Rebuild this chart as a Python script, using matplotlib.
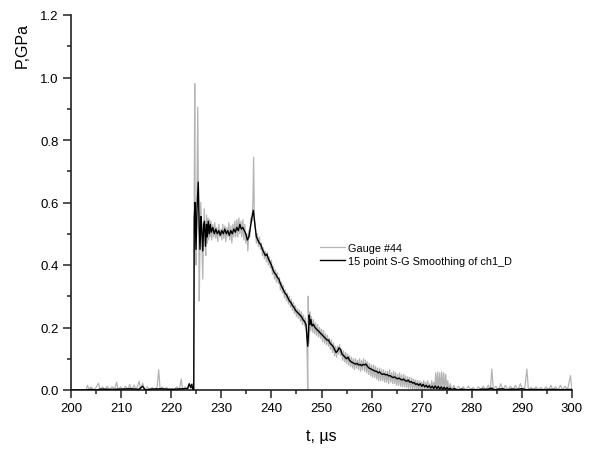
import matplotlib
matplotlib.use("Agg")
import matplotlib.pyplot as plt
from matplotlib.ticker import MultipleLocator

plt.rcParams['font.family'] = ['Liberation Sans', 'DejaVu Sans']

# Raw gauge record (gray)
gauge_t = [203.0, 203.3, 203.6, 204.0, 204.5, 205.0, 205.5, 205.8, 206.3, 206.8, 207.2, 207.7, 208.2, 208.7,
           209.1, 209.4, 209.9, 210.4, 210.9, 211.4, 211.7, 212.1, 212.6, 213.0, 213.6, 213.9, 214.3, 214.7,
           215.2, 215.7, 216.2, 216.7, 217.2, 217.5, 217.8, 218.2, 218.6, 219.1, 219.6, 220.1, 220.6, 221.1,
           221.6, 222.0, 222.3, 222.8, 223.2, 223.6, 223.9, 224.2, 224.5,
           224.6, 224.7, 224.8, 224.95, 225.1, 225.3, 225.45, 225.6, 225.75, 225.9, 226.05, 226.3, 226.45,
           226.6, 226.75, 226.9, 227.05, 227.2, 227.35, 227.5, 227.65, 227.8, 227.95,
           228.1, 228.3, 228.5, 228.7, 228.9, 229.1, 229.3, 229.5, 229.7, 229.9, 230.1, 230.3, 230.5, 230.7,
           230.9, 231.1, 231.3, 231.5, 231.7, 231.9, 232.1, 232.3, 232.5, 232.7, 232.9, 233.1, 233.3, 233.5,
           233.7, 233.9, 234.1, 234.3, 234.5, 234.7, 234.9, 235.1, 235.3, 235.5, 235.7, 235.9, 236.1, 236.3,
           236.45, 236.6, 236.8, 237.0, 237.2, 237.4, 237.6, 237.8, 238.0, 238.2, 238.4, 238.6, 238.8, 239.0,
           239.2, 239.4, 239.6, 239.8, 240.0, 240.2, 240.4, 240.6, 240.8, 241.0, 241.2, 241.4, 241.6, 241.8,
           242.0, 242.2, 242.4, 242.6, 242.8, 243.0, 243.2, 243.4, 243.6, 243.8, 244.0, 244.2, 244.4, 244.6,
           244.8, 245.0, 245.2, 245.4, 245.6, 245.8, 246.0, 246.2, 246.4, 246.6, 246.8, 247.0, 247.15, 247.25,
           247.35, 247.5, 247.65, 247.8, 248.0, 248.2, 248.4, 248.6, 248.8, 249.0, 249.2, 249.4, 249.6, 249.8,
           250.0, 250.2, 250.4, 250.6, 250.8, 251.0, 251.2, 251.4, 251.6, 251.8, 252.0, 252.2, 252.4, 252.6,
           252.8, 253.0, 253.2, 253.4, 253.6, 253.8, 254.0, 254.2, 254.4, 254.6, 254.8, 255.0, 255.2, 255.4,
           255.6, 255.8, 256.0, 256.2, 256.4, 256.6, 256.8, 257.0, 257.2, 257.4, 257.6, 257.8, 258.0, 258.2,
           258.4, 258.6, 258.8, 259.0, 259.2, 259.4, 259.6, 259.8, 260.0, 260.2, 260.4, 260.6, 260.8, 261.0,
           261.2, 261.4, 261.6, 261.8, 262.0, 262.2, 262.4, 262.6, 262.8, 263.0, 263.2, 263.4, 263.6, 263.8,
           264.0, 264.2, 264.4, 264.6, 264.8, 265.0, 265.2, 265.4, 265.6, 265.8, 266.0, 266.2, 266.4, 266.6,
           266.8, 267.0, 267.2, 267.4, 267.6, 267.8, 268.0, 268.2, 268.4, 268.6, 268.8, 269.0, 269.2, 269.4,
           269.6, 269.8, 270.0, 270.2, 270.4, 270.6, 270.8, 271.0, 271.2, 271.4, 271.6, 271.8, 272.0, 272.2,
           272.4, 272.6, 272.8, 273.0, 273.2, 273.4, 273.6, 273.8, 274.0, 274.2, 274.4, 274.6, 274.8, 275.0,
           275.2, 275.4, 275.7, 276.0, 276.4, 276.8, 277.3, 277.8, 278.3, 278.8, 279.3, 279.8, 280.3, 280.8,
           281.3, 281.8, 282.3, 282.8, 283.3, 283.7, 284.0, 284.3, 284.8, 285.3, 285.8, 286.2, 286.7, 287.2,
           287.7, 288.2, 288.7, 289.2, 289.7, 290.1, 290.6, 291.0, 291.3, 291.8, 292.3, 292.8, 293.3, 293.8,
           294.3, 294.8, 295.3, 295.8, 296.2, 296.7, 297.2, 297.7, 298.1, 298.6, 299.1, 299.7, 300.0]
gauge_p = [0.0, 0.015, 0.0, 0.01, 0.0, 0.008, 0.022, 0.0, 0.01, 0.0, 0.012, 0.0, 0.01, 0.003,
           0.025, 0.0, 0.01, 0.0, 0.012, 0.0, 0.018, 0.0, 0.015, 0.0, 0.028, 0.0, 0.022, 0.0,
           0.01, 0.0, 0.008, 0.0, 0.01, 0.065, 0.0, 0.01, 0.0, 0.008, 0.0, 0.005, 0.0, 0.01,
           0.0, 0.035, 0.0, 0.01, 0.0, 0.02, 0.005, 0.02, 0.0,
           0.6, 0.98, 0.45, 0.4, 0.55, 0.905, 0.6, 0.285, 0.48, 0.6, 0.52, 0.355, 0.5,
           0.58, 0.47, 0.43, 0.56, 0.47, 0.55, 0.48, 0.545, 0.49, 0.54,
           0.48, 0.53, 0.49, 0.535, 0.485, 0.52, 0.475, 0.53, 0.49, 0.515, 0.48, 0.53, 0.485, 0.525,
           0.475, 0.52, 0.49, 0.535, 0.48, 0.525, 0.47, 0.53, 0.49, 0.54, 0.49, 0.545, 0.49, 0.55,
           0.50, 0.54, 0.49, 0.545, 0.48, 0.53, 0.47, 0.50, 0.445, 0.51, 0.49, 0.55, 0.54, 0.60,
           0.745, 0.55, 0.52, 0.47, 0.50, 0.46, 0.49, 0.45, 0.47, 0.43, 0.455, 0.42, 0.445, 0.41,
           0.44, 0.40, 0.425, 0.39, 0.415, 0.37, 0.395, 0.355, 0.385, 0.345, 0.375, 0.34, 0.36, 0.32,
           0.345, 0.31, 0.335, 0.295, 0.32, 0.285, 0.31, 0.275, 0.30, 0.265, 0.29, 0.255, 0.28, 0.245,
           0.27, 0.235, 0.26, 0.23, 0.255, 0.22, 0.25, 0.21, 0.24, 0.205, 0.23, 0.19, 0.10, 0.0,
           0.30, 0.15, 0.25, 0.19, 0.235, 0.185, 0.225, 0.18, 0.215, 0.175, 0.21, 0.17, 0.2, 0.165,
           0.195, 0.155, 0.19, 0.15, 0.18, 0.145, 0.175, 0.14, 0.165, 0.13, 0.16, 0.12, 0.15, 0.11,
           0.14, 0.105, 0.14, 0.115, 0.145, 0.11, 0.13, 0.095, 0.125, 0.09, 0.12, 0.085, 0.115, 0.08,
           0.11, 0.075, 0.105, 0.07, 0.10, 0.065, 0.10, 0.07, 0.095, 0.065, 0.10, 0.06, 0.095, 0.065,
           0.10, 0.06, 0.095, 0.055, 0.09, 0.05, 0.085, 0.045, 0.08, 0.04, 0.08, 0.04, 0.075, 0.035,
           0.07, 0.03, 0.07, 0.03, 0.065, 0.03, 0.065, 0.025, 0.06, 0.025, 0.06, 0.02, 0.065, 0.025,
           0.055, 0.02, 0.06, 0.02, 0.055, 0.015, 0.05, 0.015, 0.055, 0.012, 0.048, 0.01, 0.05, 0.01,
           0.045, 0.008, 0.042, 0.006, 0.04, 0.005, 0.038, 0.004, 0.035, 0.003, 0.032, 0.002, 0.03, 0.001,
           0.028, 0.0, 0.025, 0.0, 0.03, 0.0, 0.025, 0.0, 0.03, 0.0, 0.02, 0.0, 0.03, 0.0,
           0.025, 0.0, 0.055, 0.0, 0.058, 0.0, 0.055, 0.0, 0.058, 0.0, 0.055, 0.0, 0.05, 0.0,
           0.03, 0.0, 0.02, 0.0, 0.015, 0.0, 0.012, 0.0, 0.01, 0.0, 0.012, 0.0, 0.008, 0.0,
           0.01, 0.0, 0.012, 0.0, 0.015, 0.0, 0.067, 0.0, 0.012, 0.0, 0.02, 0.0, 0.015, 0.0,
           0.012, 0.0, 0.015, 0.0, 0.02, 0.0, 0.01, 0.067, 0.0, 0.008, 0.0, 0.01, 0.0, 0.008,
           0.0, 0.01, 0.0, 0.015, 0.0, 0.01, 0.0, 0.015, 0.0, 0.012, 0.0, 0.046, 0.0]

# Smoothed record (black)
smooth_t = [200.0, 203.0, 204.0, 205.0, 206.0, 208.0, 210.0, 212.0, 213.5, 214.3, 214.8, 216.0, 218.0, 220.0,
            222.0, 223.3, 223.6, 223.9, 224.1, 224.35, 224.5, 224.6, 224.75, 224.95, 225.15, 225.4, 225.6,
            225.75, 225.95, 226.1, 226.3, 226.5, 226.65, 226.85, 227.05, 227.2, 227.4, 227.6, 227.8, 228.0,
            228.3, 228.6, 228.9, 229.2, 229.5, 229.8, 230.1, 230.4, 230.7, 231.0, 231.3, 231.6, 231.9, 232.2,
            232.5, 232.8, 233.1, 233.4, 233.7, 234.0, 234.3, 234.6, 234.9, 235.2, 235.5, 235.8, 236.1, 236.4,
            236.7, 237.0, 237.3, 237.6, 237.9, 238.2, 238.5, 238.8, 239.1, 239.4, 239.7, 240.0, 240.3, 240.6,
            240.9, 241.2, 241.5, 241.8, 242.1, 242.4, 242.7, 243.0, 243.3, 243.6, 243.9, 244.2, 244.5, 244.8,
            245.1, 245.4, 245.7, 246.0, 246.3, 246.6, 246.9, 247.1, 247.25, 247.4, 247.55, 247.7, 247.9, 248.1,
            248.4, 248.7, 249.0, 249.3, 249.6, 249.9, 250.2, 250.5, 250.8, 251.1, 251.4, 251.7, 252.0, 252.3,
            252.6, 252.9, 253.2, 253.5, 253.8, 254.1, 254.4, 254.7, 255.0, 255.3, 255.6, 255.9, 256.2, 256.5,
            256.8, 257.1, 257.4, 257.7, 258.0, 258.3, 258.6, 258.9, 259.2, 259.5, 259.8, 260.1, 260.4, 260.7,
            261.0, 261.3, 261.6, 261.9, 262.2, 262.5, 262.8, 263.1, 263.4, 263.7, 264.0, 264.3, 264.6, 264.9,
            265.2, 265.5, 265.8, 266.1, 266.4, 266.7, 267.0, 267.3, 267.6, 267.9, 268.2, 268.5, 268.8, 269.1,
            269.4, 269.7, 270.0, 270.3, 270.6, 270.9, 271.2, 271.5, 271.8, 272.1, 272.4, 272.7, 273.0, 273.3,
            273.6, 273.9, 274.2, 274.5, 274.8, 275.1, 275.4, 275.7, 276.0, 276.5, 277.0, 278.0, 279.0, 280.0,
            281.0, 282.0, 283.0, 284.0, 284.4, 285.0, 286.0, 287.0, 288.0, 289.0, 290.0, 291.0, 292.0, 294.0,
            296.0, 298.0, 300.0]
smooth_p = [0.0, 0.0, 0.002, 0.0, 0.003, 0.002, 0.003, 0.004, 0.002, 0.012, 0.0, 0.003, 0.004, 0.002,
            0.004, 0.005, 0.02, 0.008, 0.018, 0.0, 0.0, 0.55, 0.60, 0.45, 0.58, 0.665, 0.52,
            0.45, 0.555, 0.52, 0.445, 0.53, 0.54, 0.46, 0.53, 0.49, 0.54, 0.50, 0.53, 0.505,
            0.52, 0.50, 0.515, 0.50, 0.51, 0.495, 0.51, 0.50, 0.515, 0.50, 0.51, 0.495, 0.51, 0.50,
            0.515, 0.505, 0.52, 0.51, 0.53, 0.515, 0.52, 0.51, 0.50, 0.48, 0.49, 0.52, 0.55, 0.575,
            0.53, 0.49, 0.48, 0.47, 0.465, 0.45, 0.44, 0.43, 0.435, 0.42, 0.41, 0.40, 0.385, 0.375,
            0.37, 0.36, 0.355, 0.34, 0.33, 0.32, 0.31, 0.305, 0.295, 0.285, 0.28, 0.27, 0.265, 0.255,
            0.25, 0.245, 0.24, 0.235, 0.225, 0.22, 0.21, 0.17, 0.14, 0.18, 0.24, 0.21, 0.225, 0.205,
            0.21, 0.2, 0.195, 0.19, 0.185, 0.18, 0.175, 0.17, 0.165, 0.16, 0.16, 0.15, 0.145, 0.14,
            0.13, 0.12, 0.125, 0.135, 0.13, 0.115, 0.11, 0.105, 0.1, 0.105, 0.095, 0.09, 0.088, 0.085,
            0.083, 0.085, 0.08, 0.082, 0.078, 0.082, 0.08, 0.083, 0.075, 0.07, 0.068, 0.065, 0.063, 0.06,
            0.06, 0.055, 0.058, 0.052, 0.05, 0.052, 0.048, 0.05, 0.045, 0.046, 0.042, 0.04, 0.042, 0.038,
            0.036, 0.038, 0.034, 0.032, 0.035, 0.03, 0.028, 0.032, 0.025, 0.027, 0.022, 0.024, 0.018, 0.02,
            0.015, 0.02, 0.012, 0.018, 0.01, 0.015, 0.008, 0.014, 0.006, 0.012, 0.005, 0.013, 0.004, 0.012,
            0.003, 0.01, 0.002, 0.009, 0.002, 0.008, 0.001, 0.006, 0.0, 0.005, 0.0, 0.003, 0.0, 0.002,
            0.0, 0.003, 0.002, 0.006, 0.0, 0.002, 0.004, 0.001, 0.003, 0.002, 0.004, 0.001, 0.002, 0.001,
            0.002, 0.001, 0.002]

series_labels = ["Gauge #44", "15 point S-G Smoothing of ch1_D"]
x_label = "t, \u00b5s"
y_label = "P,GPa"

fig = plt.figure(figsize=(5.97, 4.52), dpi=100)
ax = fig.add_axes([71/597, 61/452, 501/597, 375/452])

ax.plot(gauge_t, gauge_p, color="#b4b4b4", lw=0.9, label=series_labels[0], zorder=2)
ax.plot(smooth_t, smooth_p, color="black", lw=1.0, label=series_labels[1], zorder=3)

ax.set_xlim(200, 300)
ax.set_ylim(0, 1.2)
ax.xaxis.set_major_locator(MultipleLocator(10))
ax.xaxis.set_minor_locator(MultipleLocator(5))
ax.yaxis.set_major_locator(MultipleLocator(0.2))
ax.yaxis.set_minor_locator(MultipleLocator(0.1))
ax.yaxis.set_major_formatter(plt.FuncFormatter(lambda v, p: f"{v:.1f}"))

for s in ["top", "right"]:
    ax.spines[s].set_visible(False)
for s in ["left", "bottom"]:
    ax.spines[s].set_linewidth(1.2)
    ax.spines[s].set_color("#222222")
ax.tick_params(which="major", direction="out", length=5.5, width=1.1, labelsize=9.5, pad=3.5, colors="#222222")
ax.tick_params(which="minor", direction="out", length=3, width=1.1, colors="#222222")
for lab in ax.get_xticklabels() + ax.get_yticklabels():
    lab.set_color("black")

fig.text(22/597, 1 - 46/452, y_label, rotation=90, ha="center", va="center", fontsize=11.5)
fig.text(321.5/597, 1 - 437/452, x_label, ha="center", va="center", fontsize=11.5)

ax.legend(frameon=False, fontsize=7.8, loc="upper left",
          bbox_to_anchor=((320 - 71)/501, (391 - 244)/375),
          borderaxespad=0, borderpad=0, handlelength=2.3, handletextpad=0.3,
          labelspacing=0.25)

fig.savefig("out.png", dpi=100)
